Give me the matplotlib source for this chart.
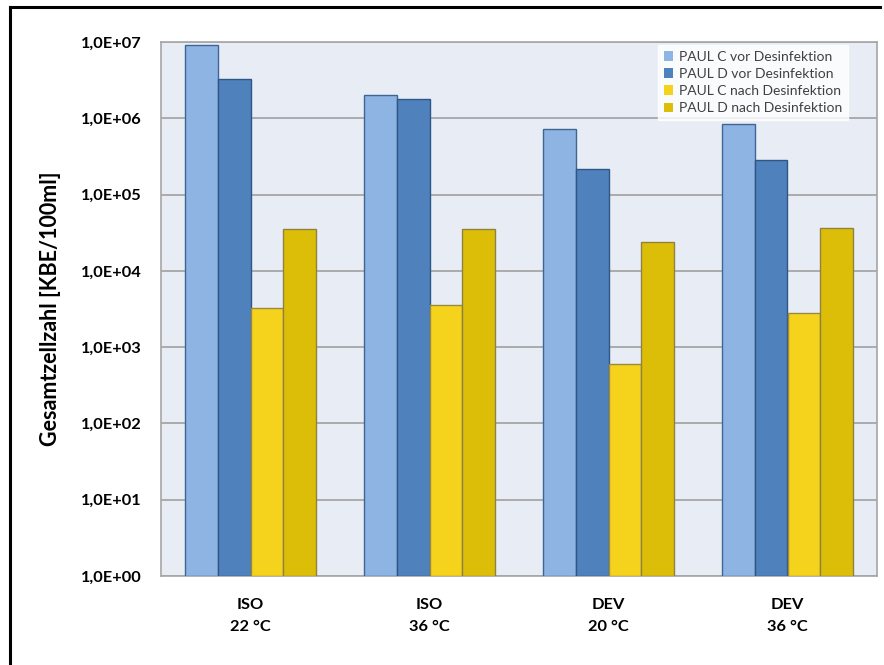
import matplotlib
matplotlib.use("Agg")
import matplotlib.pyplot as plt
from matplotlib.patches import Patch
from matplotlib.lines import Line2D
import numpy as np

plt.rcParams['font.family'] = ['Lato', 'DejaVu Sans']

categories = ["ISO\n22 °C", "ISO\n36 °C", "DEV\n20 °C", "DEV\n36 °C"]
series_names = ["PAUL C vor Desinfektion", "PAUL D vor Desinfektion",
                "PAUL C nach Desinfektion", "PAUL D nach Desinfektion"]
paul_c_vor = [9.1e6, 2.0e6, 7.2e5, 8.4e5]
paul_d_vor = [3.25e6, 1.8e6, 2.15e5, 2.8e5]
paul_c_nach = [3.25e3, 3.55e3, 6.0e2, 2.8e3]
paul_d_nach = [3.5e4, 3.5e4, 2.4e4, 3.7e4]
ytick_values = [1e0, 1e1, 1e2, 1e3, 1e4, 1e5, 1e6, 1e7]
ytick_labels = ["1,0E+00", "1,0E+01", "1,0E+02", "1,0E+03",
                "1,0E+04", "1,0E+05", "1,0E+06", "1,0E+07"]

series = [paul_c_vor, paul_d_vor, paul_c_nach, paul_d_nach]
fills = ["#8EB4E3", "#4F81BD", "#F5D31C", "#DCBE08"]
edges = ["#3E6596", "#2F5685", "#9A8A40", "#8F8240"]

fig = plt.figure(figsize=(8.84, 6.65), dpi=100)
ax = fig.add_axes([161/884, 1-576/665, (877-161)/884, (576-42)/665])
ax.set_facecolor("#E8EDF5")

x = np.arange(len(categories))
w = 0.182
for i, (vals, fc, ec) in enumerate(zip(series, fills, edges)):
    ax.bar(x + (i - 1.5) * w, vals, width=w, bottom=1, color=fc,
           edgecolor=ec, linewidth=1.0, zorder=3, label=series_names[i])

ax.set_yscale("log")
ax.set_ylim(1, 1e7)
ax.set_xlim(-0.5, len(categories) - 0.5)
ax.set_yticks(ytick_values)
ax.set_yticklabels(ytick_labels, fontsize=11.8, fontweight="bold")
ax.yaxis.set_minor_locator(matplotlib.ticker.NullLocator())
ax.set_xticks(x)
ax.set_xticklabels(categories, fontsize=11.8, fontweight="bold", linespacing=1.75)
ax.tick_params(axis="both", length=0)
ax.tick_params(axis="y", pad=14)
ax.tick_params(axis="x", pad=16)
ax.grid(axis="y", color="#A0A0A0", linewidth=1.2, zorder=1)
for s in ax.spines.values():
    s.set_color("#A6A6A6")
    s.set_linewidth(1.2)

ax.set_ylabel("Gesamtzellzahl [KBE/100ml]", fontsize=15.5, fontweight="bold",
              labelpad=14)

handles = [Patch(facecolor=f, edgecolor="none") for f in fills]
leg = fig.legend(handles, series_names, loc="upper left",
                 bbox_to_anchor=(658/884, 1-45/665), fontsize=10,
                 frameon=True, fancybox=False, handlelength=0.7,
                 handleheight=0.7, handletextpad=0.4, labelspacing=0.38,
                 borderpad=0.4, borderaxespad=0)
leg.get_frame().set_facecolor("white")
leg.get_frame().set_edgecolor("white")
for t in leg.get_texts():
    t.set_color("#404040")

# outer frame lines (left and top)
fig.add_artist(Line2D([10/884, 10/884], [0, 1-7/665], color="black",
                      linewidth=2.2, transform=fig.transFigure))
fig.add_artist(Line2D([10/884, 880/884], [1-7/665, 1-7/665], color="black",
                      linewidth=2.2, transform=fig.transFigure))

fig.savefig("out.png", dpi=100)
